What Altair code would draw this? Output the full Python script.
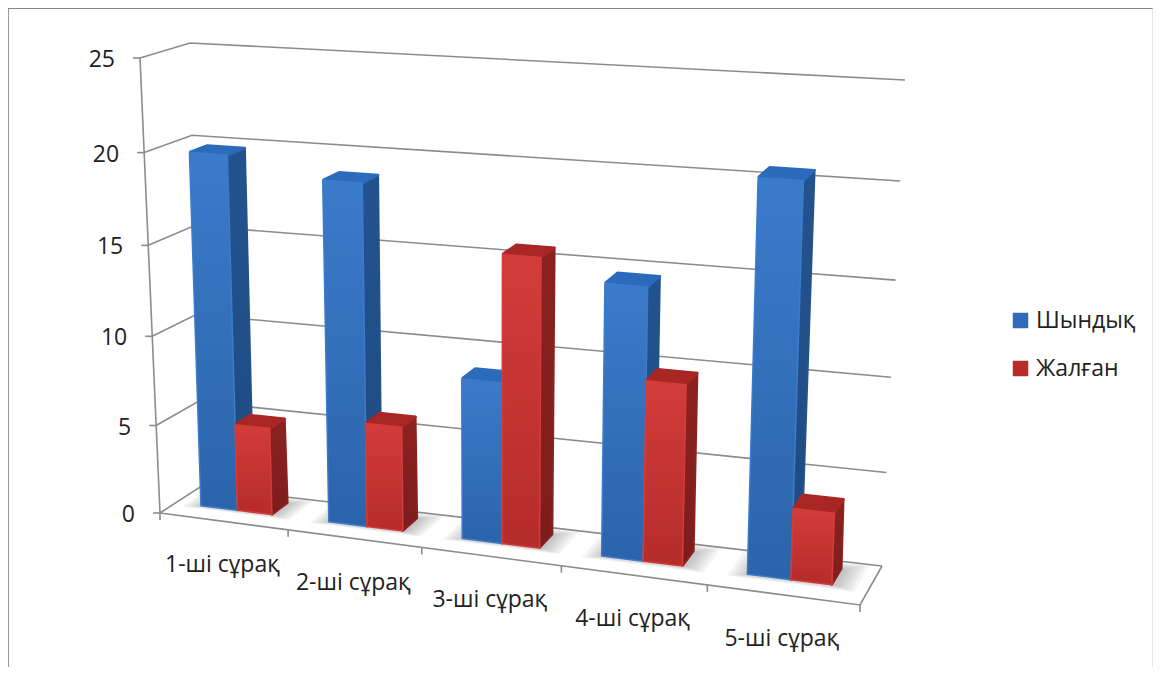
import altair as alt
import pandas as pd

categories = ["1-ші сұрақ", "2-ші сұрақ", "3-ші сұрақ", "4-ші сұрақ", "5-ші сұрақ"]
series_names = ["Шындық", "Жалған"]
true_values = [19.75, 18.8, 8.8, 14.6, 20.6]
false_values = [4.9, 5.8, 15.65, 9.7, 3.8]
y_ticks = [0, 5, 10, 15, 20, 25]

FONT = "Open Sans"
VMAX = 25.0
# corners of the 3-D box as seen on the page: (across, depth, value)
BOX = {
    (0, 0, 0): (160, 513), (1, 0, 0): (860, 605), (0, 1, 0): (200, 487), (1, 1, 0): (882, 566),
    (0, 0, 1): (140, 58), (1, 0, 1): (877, 107), (0, 1, 1): (190, 43), (1, 1, 1): (905, 80),
}
PERSP = 1.116
PERSP_V = 1.05


def across(t):
    s = t / len(categories)
    return s / (s + PERSP * (1 - s))


def upward(v):
    s = v / VMAX
    return s / (s + PERSP_V * (1 - s))


def project(t, d, v):
    f, w = across(t), upward(v)
    px, py = 0.0, 0.0
    for (a, b, c), (x, y) in BOX.items():
        k = (f if a else 1 - f) * (d if b else 1 - d) * (w if c else 1 - w)
        px += k * x
        py += k * y
    return px, py


X = alt.X("x:Q", scale=alt.Scale(domain=[8, 1153], nice=False, zero=False), axis=None)
Y = alt.Y("y:Q", scale=alt.Scale(domain=[667, 8], nice=False, zero=False), axis=None)
layers = []


def polyline(pts, **mark):
    df = pd.DataFrame([{"x": p[0], "y": p[1], "o": i} for i, p in enumerate(pts)])
    layers.append(alt.Chart(df).mark_line(**mark).encode(x=X, y=Y, order="o:Q"))


def polygon(pts, fill, **mark):
    polyline(list(pts) + [pts[0]], fill=fill, **mark)


def vgrad(top, bottom):
    return alt.Gradient(gradient="linear", x1=0, x2=0, y1=0, y2=1,
                        stops=[alt.GradientStop(color=top, offset=0), alt.GradientStop(color=bottom, offset=1)])


GRID = dict(color="#8c8c8c", strokeWidth=1.6)
n = len(categories)
# walls and floor
for v in y_ticks:
    polyline([project(0, 0, v), project(0, 1, v), project(n, 1, v)], **GRID)
    x0, y0 = project(0, 0, v)
    polyline([(x0 - 7, y0), (x0, y0)], **GRID)
polyline([project(0, 0, 0), project(0, 0, VMAX)], **GRID)
polyline([project(0, 0, 0), project(n, 0, 0), project(n, 1, 0)], **GRID)
for i in range(n + 1):
    x0, y0 = project(i, 0, 0)
    polyline([(x0, y0), (x0, y0 + 7)], **GRID)

# soft shadows on the floor
for i in range(n):
    for step in range(6):
        t0, t1 = i + 0.08 + 0.025 * step, i + 0.92 - 0.025 * step
        d0, d1 = 0.3 + 0.02 * step, 0.98 - 0.03 * step
        polygon([project(t0, d0, 0), project(t1, d0, 0), project(t1, d1, 0), project(t0, d1, 0)],
                "#666666", opacity=0.07, strokeWidth=0)

# bars
STYLE = [
    dict(front=("#3b7bcb", "#2b64aa"), side=("#23538f", "#1f4a80"), top="#2c6bbc"),
    dict(front=("#d33c39", "#b52c2a"), side=("#8c2220", "#7c1d1b"), top="#a82624"),
]
D0, D1, DTOP = 0.4, 0.82, 0.78
EDGES = [(0.2, 0.49), (0.49, 0.76)]
for i in range(n):
    for k, vals in enumerate([true_values, false_values]):
        v = vals[i]
        t0, t1 = i + EDGES[k][0], i + EDGES[k][1]
        st = STYLE[k]
        polygon([project(t1, D0, v), project(t1, DTOP, v), project(t1, D1, 0), project(t1, D0, 0)],
                vgrad(*st["side"]), stroke=st["side"][0], strokeWidth=2, strokeJoin="round")
        polygon([project(t0, D0, v), project(t1, D0, v), project(t1, DTOP, v), project(t0, DTOP, v)],
                st["top"], stroke=st["top"], strokeWidth=2.5, strokeJoin="round")
        polygon([project(t0, D0, v), project(t1, D0, v), project(t1, D0, 0), project(t0, D0, 0)],
                vgrad(*st["front"]), stroke=st["front"][0], strokeWidth=1.5, strokeJoin="round")

# value labels on the slanted axis
tick_df = pd.DataFrame([
    {"x": project(0, 0, v)[0] - 25, "y": project(0, 0, v)[1] + 2, "label": str(v)} for v in y_ticks
])
layers.append(alt.Chart(tick_df).mark_text(align="right", baseline="middle", font=FONT, fontSize=23, color="#222222")
              .encode(x=X, y=Y, text="label:N"))

# category labels under the front edge
cat_df = pd.DataFrame([
    {"x": project(i + 0.5, 0, 0)[0] - 1, "y": project(i + 0.5, 0, 0)[1] + 44, "label": c}
    for i, c in enumerate(categories)
])
layers.append(alt.Chart(cat_df).mark_text(align="center", baseline="middle", font=FONT, fontSize=23, color="#222222")
              .encode(x=X, y=Y, text="label:N"))

# legend, carried by an invisible layer
leg_df = pd.DataFrame({
    "x": [project(0.5, 0, 0)[0]] * 2,
    "y": [project(0.5, 0, 0)[1]] * 2,
    "series": series_names,
})
layers.append(alt.Chart(leg_df).mark_square(opacity=0).encode(
    x=X, y=Y,
    color=alt.Color("series:N", sort=series_names,
                    scale=alt.Scale(domain=series_names, range=["#2f6bb8", "#b82c2a"]),
                    legend=alt.Legend(orient="none", legendX=1001, legendY=301, title=None,
                                      symbolType="square", symbolSize=240, symbolOpacity=1,
                                      labelFont=FONT, labelFontSize=23, labelColor="#222222",
                                      rowPadding=24, labelOffset=4)),
))

# outer frame
frame_df = pd.DataFrame({"a": [0]})
for kw, col, w in [
    (dict(x=alt.value(0), y=alt.value(0), y2=alt.value(659)), "#999999", 2),
    (dict(x=alt.value(0), x2=alt.value(1145), y=alt.value(0)), "#888888", 2),
    (dict(x=alt.value(1145), y=alt.value(0), y2=alt.value(659)), "#cccccc", 1),
]:
    layers.append(alt.Chart(frame_df).mark_rule(color=col, strokeWidth=w).encode(**kw))

chart = (
    alt.layer(*layers)
    .properties(width=1145, height=659, padding=0, autosize=alt.AutoSizeParams(type="none"), background="white")
    .configure_view(stroke=None)
)
chart.save("out.html", embed_options={"renderer": "svg", "actions": False})
